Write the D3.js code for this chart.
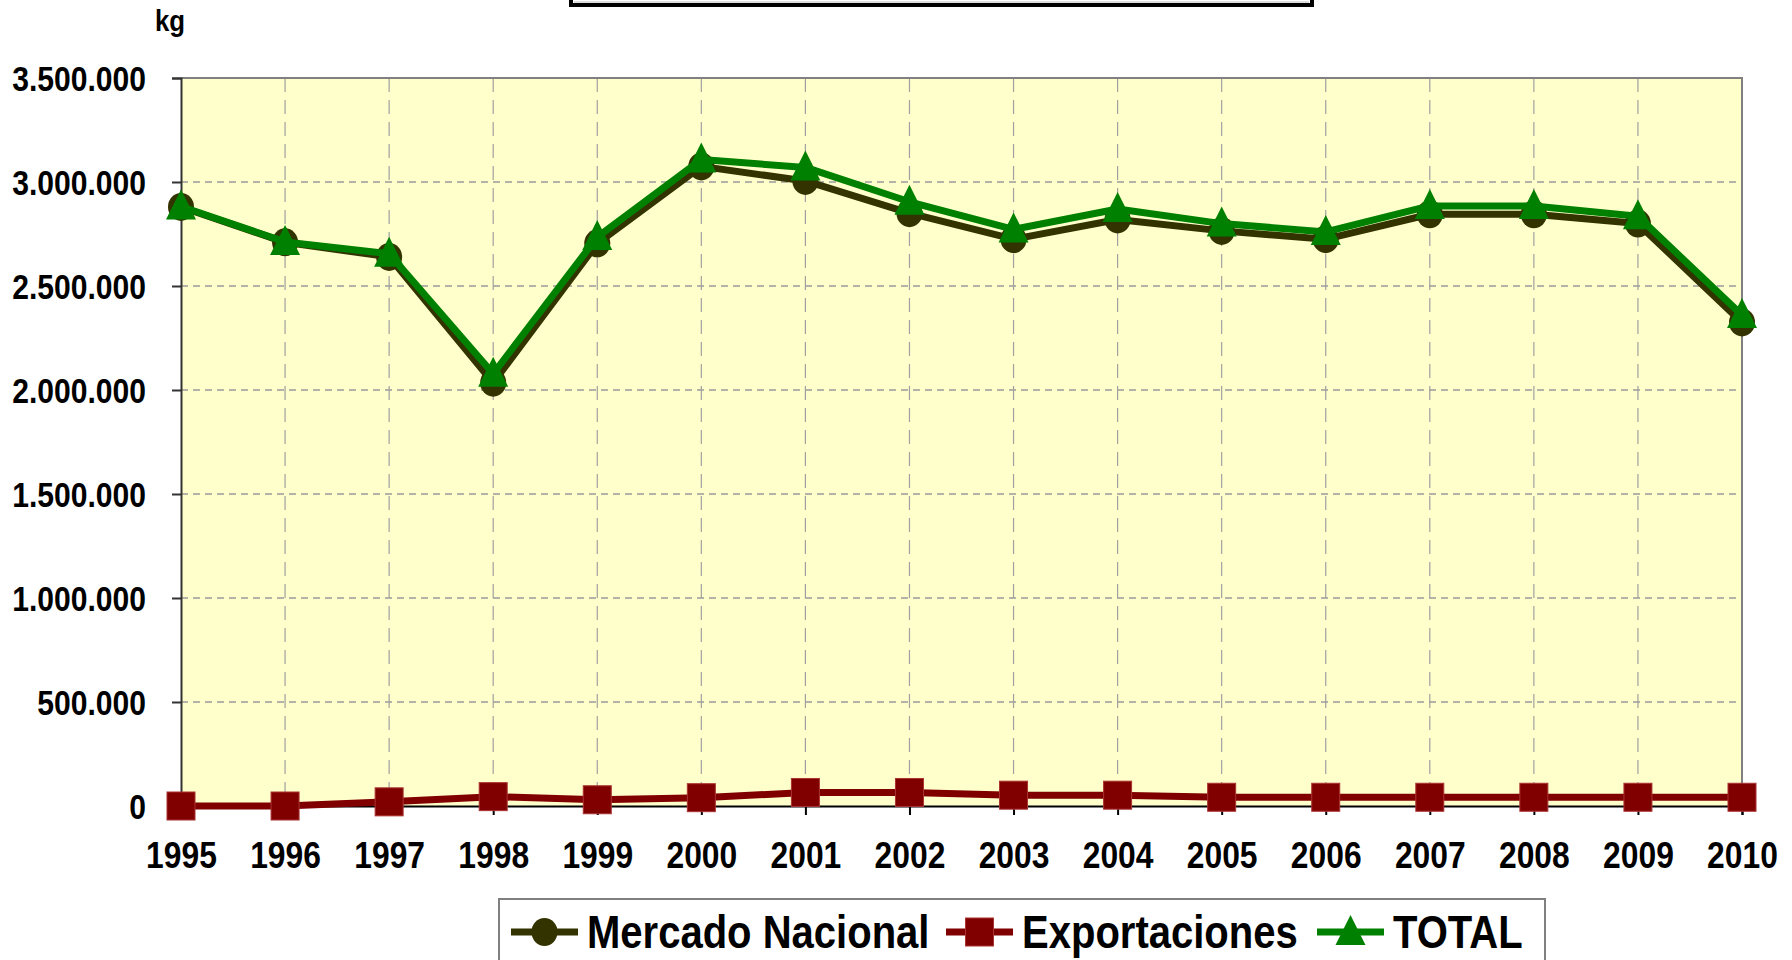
<!DOCTYPE html>
<html>
<head>
<meta charset="utf-8">
<script src="https://cdn.jsdelivr.net/npm/d3@7"></script>
<style>
  body { margin: 0; background: #fff; }
  svg { display: block; font-family: "Liberation Sans", Arial, sans-serif; font-weight: bold; }
</style>
</head>
<body>
<svg></svg>
<script>
const years = ['1995', '1996', '1997', '1998', '1999', '2000', '2001', '2002',
  '2003', '2004', '2005', '2006', '2007', '2008', '2009', '2010'];
const mercado = [2880000, 2710000, 2640000, 2035000, 2705000, 3075000, 3005000, 2850000,
  2725000, 2820000, 2765000, 2725000, 2845000, 2845000, 2800000, 2325000];
const exportaciones = [0, 0, 20000, 45000, 30000, 40000, 65000, 65000,
  52000, 52000, 42000, 42000, 42000, 42000, 42000, 42000];
const total = [2882000, 2712000, 2655000, 2078000, 2735000, 3108000, 3070000, 2905000,
  2772000, 2870000, 2800000, 2760000, 2885000, 2885000, 2835000, 2360000];
const yTicks = [0, 500000, 1000000, 1500000, 2000000, 2500000, 3000000, 3500000];
const legendLabels = ['Mercado Nacional', 'Exportaciones', 'TOTAL'];

const W = 1792, H = 960;
const svg = d3.select('svg').attr('width', W).attr('height', H);

const plotL = 181, plotR = 1742, plotT = 78, plotB = 806;
const sx = 0.86; // text in the original is a bit narrow
const x = d3.scalePoint().domain(years).range([plotL, plotR]);
const y = d3.scaleLinear().domain([0, 3500000]).range([plotB, plotT]);
const fmt = d3.formatLocale({ decimal: ',', thousands: '.', grouping: [3], currency: ['', ''] }).format(',d');

// title box, cut off at the top
svg.append('rect')
  .attr('x', 571).attr('y', -40).attr('width', 741).attr('height', 45)
  .attr('fill', '#fff').attr('stroke', '#000').attr('stroke-width', 4);
svg.append('line')
  .attr('x1', 574).attr('x2', 1309).attr('y1', 2).attr('y2', 2)
  .attr('stroke', '#bbb').attr('stroke-width', 1);

// plot background
svg.append('rect')
  .attr('x', plotL).attr('y', plotT)
  .attr('width', plotR - plotL).attr('height', plotB - plotT)
  .attr('fill', '#ffffcc');

// grid
svg.append('g')
  .selectAll('line')
  .data(yTicks.filter(d => d > 0 && d < 3500000))
  .enter().append('line')
  .attr('x1', plotL).attr('x2', plotR)
  .attr('y1', d => y(d)).attr('y2', d => y(d))
  .attr('stroke', '#9a9a9a').attr('stroke-width', 1.5)
  .attr('stroke-dasharray', '7,5');

svg.append('g')
  .selectAll('line')
  .data(years.slice(1, -1))
  .enter().append('line')
  .attr('x1', d => x(d)).attr('x2', d => x(d))
  .attr('y1', plotT).attr('y2', plotB)
  .attr('stroke', '#a0a0a0').attr('stroke-width', 1.2)
  .attr('stroke-dasharray', '14,8');

// border: top and right grey
svg.append('path')
  .attr('d', `M${plotL},${plotT}H${plotR}V${plotB}`)
  .attr('fill', 'none').attr('stroke', '#808080').attr('stroke-width', 2);

// y axis
const yAxis = svg.append('g')
  .attr('transform', `translate(${plotL},0)`)
  .call(d3.axisLeft(y).tickValues(yTicks).tickFormat(fmt).tickSize(9));
yAxis.select('.domain').attr('stroke', '#333').attr('stroke-width', 2);
yAxis.selectAll('.tick line').attr('stroke', '#333').attr('stroke-width', 2);
yAxis.selectAll('.tick text')
  .attr('fill', '#000').attr('font-size', 35).attr('font-weight', 'bold')
  .attr('font-family', '"Liberation Sans", Arial, sans-serif')
  .attr('x', -35 / sx)
  .attr('dy', '0.36em')
  .attr('transform', `scale(${sx},1)`);

// x axis
const xAxis = svg.append('g')
  .attr('transform', `translate(0,${plotB})`)
  .call(d3.axisBottom(x).tickSize(9).tickPadding(27));
xAxis.select('.domain').attr('stroke', '#000').attr('stroke-width', 2);
xAxis.selectAll('.tick line').attr('stroke', '#000').attr('stroke-width', 2);
xAxis.selectAll('.tick text')
  .attr('fill', '#000').attr('font-size', 37).attr('font-weight', 'bold')
  .attr('font-family', '"Liberation Sans", Arial, sans-serif')
  .attr('transform', `scale(${sx},1)`);

// kg unit
svg.append('text')
  .attr('x', 170 / sx).attr('y', 31)
  .attr('transform', `scale(${sx},1)`)
  .attr('text-anchor', 'middle')
  .attr('font-size', 30)
  .text('kg');

const series = [
  { name: legendLabels[0], values: mercado, color: '#333300', marker: 'circle' },
  { name: legendLabels[1], values: exportaciones, color: '#800000', marker: 'square' },
  { name: legendLabels[2], values: total, color: '#008000', marker: 'triangle' },
];

const line = d3.line()
  .x((d, i) => x(years[i]))
  .y(d => y(d));

const drawMarker = (g, type, color) => {
  if (type === 'circle') {
    g.append('ellipse').attr('rx', 13).attr('ry', 14).attr('fill', color);
  } else if (type === 'square') {
    g.append('rect').attr('x', -14).attr('y', -14).attr('width', 28).attr('height', 28)
      .attr('fill', color).attr('stroke', '#a33').attr('stroke-width', 1);
  } else {
    g.append('path').attr('d', 'M0,-17L15,13H-15Z').attr('fill', color);
  }
};

series.forEach(s => {
  svg.append('path')
    .datum(s.values)
    .attr('d', line)
    .attr('fill', 'none')
    .attr('stroke', s.color)
    .attr('stroke-width', 7)
    .attr('stroke-linejoin', 'round');

  svg.append('g')
    .selectAll('g')
    .data(s.values)
    .enter().append('g')
    .attr('transform', (d, i) => `translate(${x(years[i])},${y(d)})`)
    .each(function () { drawMarker(d3.select(this), s.marker, s.color); });
});

// legend
const legend = svg.append('g');
legend.append('rect')
  .attr('x', 499).attr('y', 899).attr('width', 1046).attr('height', 90)
  .attr('fill', '#fff').attr('stroke', '#808080').attr('stroke-width', 2);

const legendX = [511, 946, 1317];
series.forEach((s, i) => {
  const g = legend.append('g').attr('transform', `translate(${legendX[i]},932)`);
  g.append('line').attr('x1', 0).attr('x2', 67).attr('y1', 0).attr('y2', 0)
    .attr('stroke', s.color).attr('stroke-width', 7);
  const m = g.append('g').attr('transform', 'translate(33.5,0)');
  drawMarker(m, s.marker, s.color);
  g.append('text')
    .attr('x', 76 / 0.87).attr('y', 16)
    .attr('transform', 'scale(0.87,1)')
    .attr('font-size', 46)
    .attr('fill', '#000')
    .text(s.name);
});
</script>
</body>
</html>
